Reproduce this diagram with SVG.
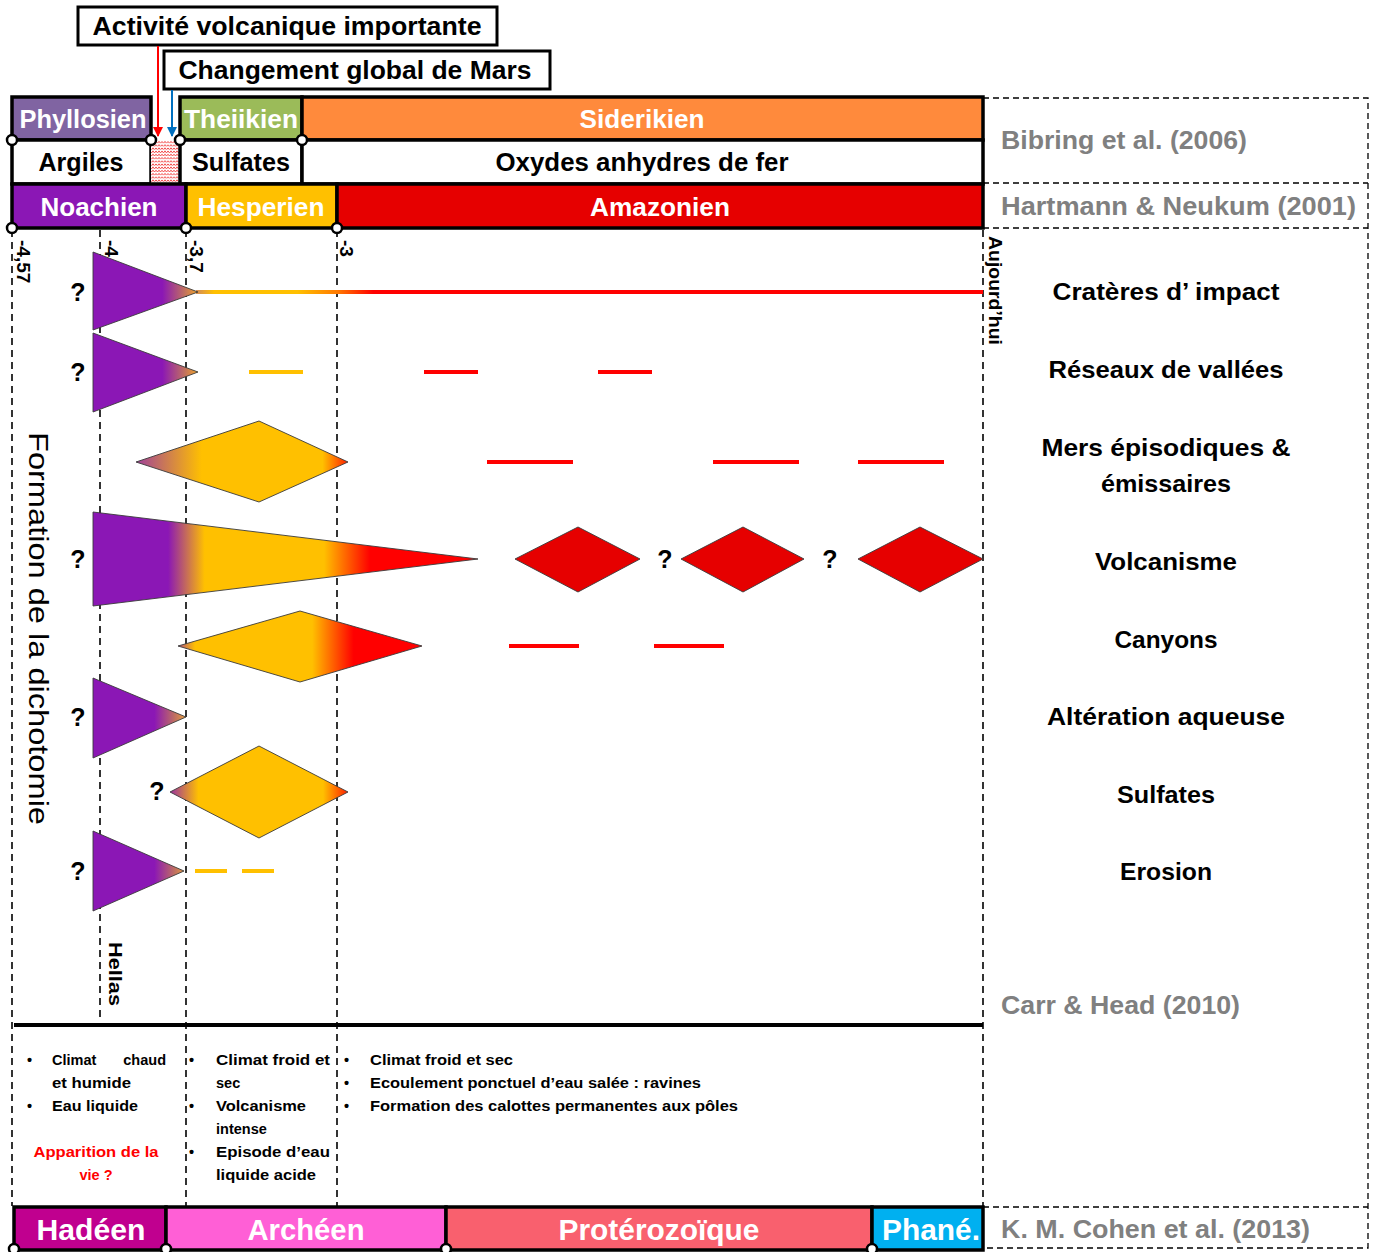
<svg xmlns="http://www.w3.org/2000/svg" width="1377" height="1252" viewBox="0 0 1377 1252">
<style>
text{font-family:"Liberation Sans",Arial,sans-serif;font-weight:bold}
.box{stroke:#000;stroke-width:3.5}
.hdr{fill:#fff;font-size:25px;text-anchor:middle}
.hdrb{fill:#000;font-size:25px;text-anchor:middle}
.cat{fill:#000;font-size:24px;text-anchor:middle}
.ref{fill:#808080;font-size:25px}
.q{fill:#000;font-size:25px;text-anchor:middle}
.tick{fill:#000;font-size:19px}
.vl{stroke:#000;stroke-width:1.6;stroke-dasharray:7 5;fill:none}
.rl{stroke:#000;stroke-width:1.3;stroke-dasharray:6 4;fill:none}
.dot{fill:#fff;stroke:#000;stroke-width:2.5}
.shp{stroke:#3a3a3a;stroke-width:0.9}
.rd{stroke:#FF0000;stroke-width:4}
.yd{stroke:#FFC000;stroke-width:4}
.bt{fill:#000;font-size:14.5px}
.bar{fill:#fff;font-size:29px;text-anchor:middle}
</style>
<defs>
<pattern id="hatch" width="6" height="3.2" patternUnits="userSpaceOnUse">
<rect width="6" height="3.2" fill="#fff"/>
<path d="M0,0.6 L1.5,2.4 L3,0.6 L4.5,2.4 L6,0.6" fill="none" stroke="#F03030" stroke-width="0.8"/>
</pattern>
<linearGradient id="gTri" gradientUnits="userSpaceOnUse" x1="93" y1="0" x2="198" y2="0">
<stop offset="0" stop-color="#8B17B5"/><stop offset="0.66" stop-color="#8B17B5"/><stop offset="0.87" stop-color="#C07060"/><stop offset="1" stop-color="#F2A52A"/>
</linearGradient>
<linearGradient id="gTriS" gradientUnits="userSpaceOnUse" x1="93" y1="0" x2="186" y2="0">
<stop offset="0" stop-color="#8B17B5"/><stop offset="0.66" stop-color="#8B17B5"/><stop offset="0.88" stop-color="#C07060"/><stop offset="1" stop-color="#E8A040"/>
</linearGradient>
<linearGradient id="gLine" gradientUnits="userSpaceOnUse" x1="186" y1="0" x2="983" y2="0">
<stop offset="0.015" stop-color="#D89050"/><stop offset="0.035" stop-color="#FFC000"/><stop offset="0.14" stop-color="#FFC000"/><stop offset="0.19" stop-color="#FF7A00"/><stop offset="0.235" stop-color="#FF0000"/><stop offset="1" stop-color="#FF0000"/>
</linearGradient>
<linearGradient id="gMers" gradientUnits="userSpaceOnUse" x1="136" y1="0" x2="348" y2="0">
<stop offset="0" stop-color="#A0409A"/><stop offset="0.31" stop-color="#FFC000"/><stop offset="0.88" stop-color="#FFC000"/><stop offset="1" stop-color="#FF2000"/>
</linearGradient>
<linearGradient id="gVolc" gradientUnits="userSpaceOnUse" x1="93" y1="0" x2="478" y2="0">
<stop offset="0" stop-color="#8B17B5"/><stop offset="0.195" stop-color="#8B17B5"/><stop offset="0.29" stop-color="#FFC000"/><stop offset="0.6" stop-color="#FFC000"/><stop offset="0.66" stop-color="#FF6000"/><stop offset="0.72" stop-color="#FF0000"/><stop offset="1" stop-color="#FF0000"/>
</linearGradient>
<linearGradient id="gCan" gradientUnits="userSpaceOnUse" x1="178" y1="0" x2="422" y2="0">
<stop offset="0" stop-color="#B05080"/><stop offset="0.07" stop-color="#FFC000"/><stop offset="0.55" stop-color="#FFC000"/><stop offset="0.72" stop-color="#FF0000"/><stop offset="1" stop-color="#FF0000"/>
</linearGradient>
<linearGradient id="gSulf" gradientUnits="userSpaceOnUse" x1="170" y1="0" x2="348" y2="0">
<stop offset="0" stop-color="#9A30A0"/><stop offset="0.16" stop-color="#FFC000"/><stop offset="0.86" stop-color="#FFC000"/><stop offset="1" stop-color="#FF2000"/>
</linearGradient>
<marker id="ahR" markerWidth="10" markerHeight="10" refX="5" refY="9" markerUnits="userSpaceOnUse" viewBox="0 0 10 10">
<path d="M0,0 L10,0 L5,10 z" fill="#FF0000"/>
</marker>
<marker id="ahB" markerWidth="10" markerHeight="10" refX="5" refY="9" markerUnits="userSpaceOnUse" viewBox="0 0 10 10">
<path d="M0,0 L10,0 L5,10 z" fill="#0070C0"/>
</marker>
</defs>
<rect width="1377" height="1252" fill="#fff"/>

<!-- reference frame (right) -->
<g id="references">
<path class="rl" d="M983,98 H1368 V1248 H983 M983,183 H1368 M983,228 H1368 M983,1207 H1368"/>
<text class="ref" x="1001" y="149" textLength="246" lengthAdjust="spacingAndGlyphs">Bibring et al. (2006)</text>
<text class="ref" x="1001" y="215" textLength="355" lengthAdjust="spacingAndGlyphs">Hartmann &amp; Neukum (2001)</text>
<text class="ref" x="1001" y="1014" textLength="239" lengthAdjust="spacingAndGlyphs">Carr &amp; Head (2010)</text>
<text class="ref" x="1001" y="1238" textLength="309" lengthAdjust="spacingAndGlyphs">K. M. Cohen et al. (2013)</text>
</g>

<!-- vertical time lines -->
<g id="timelines">
<line class="vl" x1="12" y1="230" x2="12" y2="1206"/>
<line class="vl" x1="100" y1="230" x2="100" y2="1020"/>
<line class="vl" x1="186" y1="230" x2="186" y2="1206"/>
<line class="vl" x1="337" y1="230" x2="337" y2="1206"/>
<line class="vl" x1="983" y1="230" x2="983" y2="1206"/>
<line x1="14" y1="1025" x2="983" y2="1025" stroke="#000" stroke-width="4"/>
</g>

<!-- top callouts -->
<g id="callout-volcanique">
<rect x="78" y="7" width="419" height="38" fill="#fff" stroke="#000" stroke-width="3"/>
<text class="hdrb" x="287" y="35" textLength="389" lengthAdjust="spacingAndGlyphs">Activité volcanique importante</text>
</g>
<g id="callout-changement">
<rect x="164" y="51" width="386" height="38" fill="#fff" stroke="#000" stroke-width="3"/>
<text class="hdrb" x="355" y="79" textLength="353" lengthAdjust="spacingAndGlyphs">Changement global de Mars</text>
</g>

<!-- header rows -->
<g id="phyllosien"><rect class="box" x="12" y="97" width="139" height="43" fill="#8064A2"/><text class="hdr" x="83" y="128" textLength="127" lengthAdjust="spacingAndGlyphs">Phyllosien</text></g>
<g id="theiikien"><rect class="box" x="180" y="97" width="122" height="43" fill="#9BBB59"/><text class="hdr" x="241" y="128" textLength="114" lengthAdjust="spacingAndGlyphs">Theiikien</text></g>
<g id="siderikien"><rect class="box" x="302" y="97" width="681" height="43" fill="#FF8A3C"/><text class="hdr" x="642" y="128" textLength="125" lengthAdjust="spacingAndGlyphs">Siderikien</text></g>
<g id="argiles"><rect class="box" x="12" y="140" width="139" height="44" fill="#fff"/><text class="hdrb" x="81" y="171" textLength="85" lengthAdjust="spacingAndGlyphs">Argiles</text></g>
<g id="transition"><rect x="151" y="140" width="29" height="44" fill="url(#hatch)"/></g>
<g id="sulfates-hdr"><rect class="box" x="180" y="140" width="122" height="44" fill="#fff"/><text class="hdrb" x="241" y="171" textLength="98" lengthAdjust="spacingAndGlyphs">Sulfates</text></g>
<g id="oxydes"><rect class="box" x="302" y="140" width="681" height="44" fill="#fff"/><text class="hdrb" x="642" y="171" textLength="293" lengthAdjust="spacingAndGlyphs">Oxydes anhydres de fer</text></g>
<g id="noachien"><rect class="box" x="12" y="184" width="174" height="44" fill="#8B17B5"/><text class="hdr" x="99" y="216" textLength="117" lengthAdjust="spacingAndGlyphs">Noachien</text></g>
<g id="hesperien"><rect class="box" x="186" y="184" width="151" height="44" fill="#FFC000"/><text class="hdr" x="261" y="216" textLength="127" lengthAdjust="spacingAndGlyphs">Hesperien</text></g>
<g id="amazonien"><rect class="box" x="337" y="184" width="646" height="44" fill="#E60000"/><text class="hdr" x="660" y="216" textLength="140" lengthAdjust="spacingAndGlyphs">Amazonien</text></g>

<g id="header-dots">
<circle class="dot" cx="12" cy="140" r="5"/><circle class="dot" cx="151" cy="140" r="5"/><circle class="dot" cx="180" cy="140" r="5"/><circle class="dot" cx="302" cy="140" r="5"/>
<circle class="dot" cx="12" cy="228" r="5"/><circle class="dot" cx="186" cy="228" r="5"/><circle class="dot" cx="337" cy="228" r="5"/>
</g>

<!-- connectors -->
<g id="connectors">
<line x1="158" y1="46" x2="158" y2="136" stroke="#FF0000" stroke-width="2" marker-end="url(#ahR)"/>
<line x1="172" y1="90" x2="172" y2="136" stroke="#0070C0" stroke-width="2" marker-end="url(#ahB)"/>
</g>

<!-- axis labels -->
<g id="axis-labels">
<text class="tick" transform="translate(17,240) rotate(90)">-4,57</text>
<text class="tick" transform="translate(105,240) rotate(90)">-4</text>
<text class="tick" transform="translate(190,240) rotate(90)">-3,7</text>
<text class="tick" transform="translate(340,240) rotate(90)">-3</text>
<text class="tick" font-size="17" transform="translate(989,236) rotate(90)" textLength="109" lengthAdjust="spacingAndGlyphs">Aujourd’hui</text>
<text class="tick" transform="translate(109,942) rotate(90)" textLength="64" lengthAdjust="spacingAndGlyphs">Hellas</text>
<text transform="translate(29,432) rotate(90)" font-size="28" fill="#000" style="font-weight:normal" textLength="393" lengthAdjust="spacingAndGlyphs">Formation de la dichotomie</text>
</g>

<!-- categories -->
<g id="categories">
<text class="cat" x="1166" y="300" textLength="227" lengthAdjust="spacingAndGlyphs">Cratères d’ impact</text>
<text class="cat" x="1166" y="378" textLength="235" lengthAdjust="spacingAndGlyphs">Réseaux de vallées</text>
<text class="cat" x="1166" y="456" textLength="249" lengthAdjust="spacingAndGlyphs">Mers épisodiques &amp;</text>
<text class="cat" x="1166" y="492" textLength="130" lengthAdjust="spacingAndGlyphs">émissaires</text>
<text class="cat" x="1166" y="570" textLength="142" lengthAdjust="spacingAndGlyphs">Volcanisme</text>
<text class="cat" x="1166" y="648" textLength="103" lengthAdjust="spacingAndGlyphs">Canyons</text>
<text class="cat" x="1166" y="725" textLength="238" lengthAdjust="spacingAndGlyphs">Altération aqueuse</text>
<text class="cat" x="1166" y="803" textLength="98" lengthAdjust="spacingAndGlyphs">Sulfates</text>
<text class="cat" x="1166" y="880" textLength="92" lengthAdjust="spacingAndGlyphs">Erosion</text>
</g>

<!-- row 1 : crateres -->
<g id="row-crateres">
<line x1="196" y1="292" x2="983" y2="292" stroke="url(#gLine)" stroke-width="4"/>
<polygon class="shp" points="93,252 198,292 93,330" fill="url(#gTri)"/>
<text class="q" x="78" y="301">?</text>
</g>
<!-- row 2 : vallees -->
<g id="row-vallees">
<polygon class="shp" points="93,333 198,372 93,412" fill="url(#gTri)"/>
<text class="q" x="78" y="381">?</text>
<line class="yd" x1="249" y1="372" x2="303" y2="372"/>
<line class="rd" x1="424" y1="372" x2="478" y2="372"/>
<line class="rd" x1="598" y1="372" x2="652" y2="372"/>
</g>
<!-- row 3 : mers -->
<g id="row-mers">
<polygon class="shp" points="136,462 259,421 348,462 259,502" fill="url(#gMers)"/>
<line class="rd" x1="487" y1="462" x2="573" y2="462"/>
<line class="rd" x1="713" y1="462" x2="799" y2="462"/>
<line class="rd" x1="858" y1="462" x2="944" y2="462"/>
</g>
<!-- row 4 : volcanisme -->
<g id="row-volcanisme">
<polygon class="shp" points="93,512 478,559 93,606" fill="url(#gVolc)"/>
<text class="q" x="78" y="568">?</text>
<polygon class="shp" points="515,559 578,527 640,559 578,592" fill="#E60000"/>
<text class="q" x="665" y="568">?</text>
<polygon class="shp" points="681,559 743,527 804,559 743,592" fill="#E60000"/>
<text class="q" x="830" y="568">?</text>
<polygon class="shp" points="858,559 920,527 983,559 920,592" fill="#E60000"/>
</g>
<!-- row 5 : canyons -->
<g id="row-canyons">
<polygon class="shp" points="178,646 300,611 422,646 300,682" fill="url(#gCan)"/>
<line class="rd" x1="509" y1="646" x2="579" y2="646"/>
<line class="rd" x1="654" y1="646" x2="724" y2="646"/>
</g>
<!-- row 6 : alteration -->
<g id="row-alteration">
<polygon class="shp" points="93,678 186,717 93,758" fill="url(#gTriS)"/>
<text class="q" x="78" y="726">?</text>
</g>
<!-- row 7 : sulfates -->
<g id="row-sulfates">
<polygon class="shp" points="170,792 259,746 348,792 259,838" fill="url(#gSulf)"/>
<text class="q" x="157" y="800">?</text>
</g>
<!-- row 8 : erosion -->
<g id="row-erosion">
<polygon class="shp" points="93,831 184,871 93,911" fill="url(#gTriS)"/>
<text class="q" x="78" y="880">?</text>
<line class="yd" x1="195" y1="871" x2="227" y2="871"/>
<line class="yd" x1="242" y1="871" x2="274" y2="871"/>
</g>

<!-- bottom notes -->
<g id="notes-noachien">
<text class="bt" x="27" y="1065">•</text>
<text class="bt" x="52" y="1065">Climat</text>
<text class="bt" x="166" y="1065" text-anchor="end">chaud</text>
<text class="bt" x="52" y="1088" textLength="79" lengthAdjust="spacingAndGlyphs">et humide</text>
<text class="bt" x="27" y="1111">•</text>
<text class="bt" x="52" y="1111" textLength="86" lengthAdjust="spacingAndGlyphs">Eau liquide</text>
<text class="bt" x="96" y="1157" style="fill:#FF0000" text-anchor="middle" textLength="125" lengthAdjust="spacingAndGlyphs">Apparition de la</text>
<text class="bt" x="96" y="1180" style="fill:#FF0000" text-anchor="middle">vie ?</text>
</g>
<g id="notes-hesperien">
<text class="bt" x="189" y="1065">•</text>
<text class="bt" x="216" y="1065" textLength="114" lengthAdjust="spacingAndGlyphs">Climat froid et</text>
<text class="bt" x="216" y="1088">sec</text>
<text class="bt" x="189" y="1111">•</text>
<text class="bt" x="216" y="1111" textLength="90" lengthAdjust="spacingAndGlyphs">Volcanisme</text>
<text class="bt" x="216" y="1134">intense</text>
<text class="bt" x="189" y="1157">•</text>
<text class="bt" x="216" y="1157" textLength="114" lengthAdjust="spacingAndGlyphs">Episode  d’eau</text>
<text class="bt" x="216" y="1180" textLength="100" lengthAdjust="spacingAndGlyphs">liquide acide</text>
</g>
<g id="notes-amazonien">
<text class="bt" x="344" y="1065">•</text>
<text class="bt" x="370" y="1065" textLength="143" lengthAdjust="spacingAndGlyphs">Climat froid et sec</text>
<text class="bt" x="344" y="1088">•</text>
<text class="bt" x="370" y="1088" textLength="331" lengthAdjust="spacingAndGlyphs">Ecoulement ponctuel d’eau salée : ravines</text>
<text class="bt" x="344" y="1111">•</text>
<text class="bt" x="370" y="1111" textLength="368" lengthAdjust="spacingAndGlyphs">Formation des calottes permanentes aux pôles</text>
</g>

<!-- bottom earth timescale -->
<g id="hadeen"><rect class="box" x="14" y="1207" width="152" height="43" fill="#C0008F"/><text class="bar" x="91" y="1240" textLength="109" lengthAdjust="spacingAndGlyphs">Hadéen</text></g>
<g id="archeen"><rect class="box" x="166" y="1207" width="280" height="43" fill="#FF5FD6"/><text class="bar" x="306" y="1240" textLength="117" lengthAdjust="spacingAndGlyphs">Archéen</text></g>
<g id="proterozoique"><rect class="box" x="446" y="1207" width="426" height="43" fill="#F9606E"/><text class="bar" x="659" y="1240" textLength="201" lengthAdjust="spacingAndGlyphs">Protérozoïque</text></g>
<g id="phanerozoique"><rect class="box" x="872" y="1207" width="111" height="43" fill="#00B0F0"/><text class="bar" x="931" y="1240" textLength="98" lengthAdjust="spacingAndGlyphs">Phané.</text></g>
<g id="bottom-dots">
<circle class="dot" cx="14" cy="1249" r="5"/><circle class="dot" cx="166" cy="1249" r="5"/><circle class="dot" cx="446" cy="1249" r="5"/><circle class="dot" cx="872" cy="1249" r="5"/>
</g>
</svg>
